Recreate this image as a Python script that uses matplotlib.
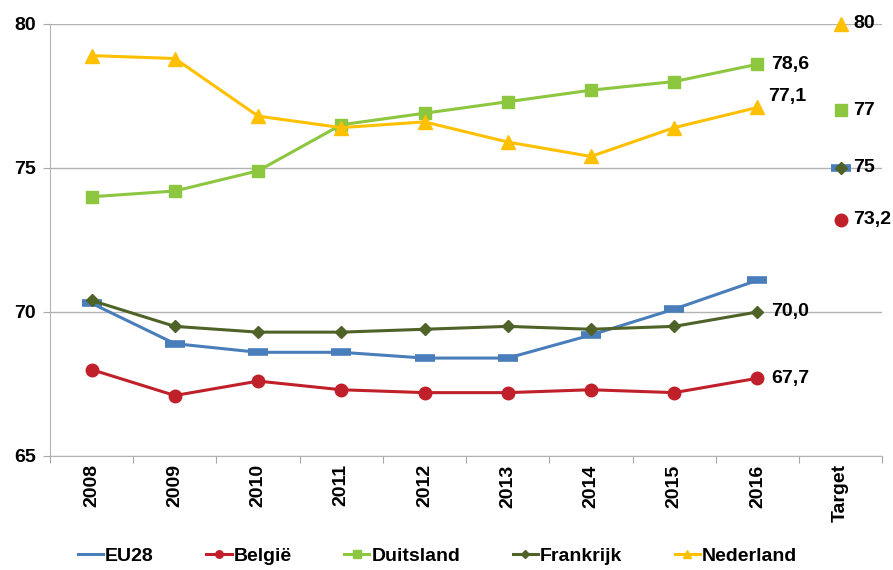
import numpy as np
import matplotlib
matplotlib.use('Agg')
import matplotlib.pyplot as plt

plt.rcParams['font.family'] = ['Liberation Sans', 'DejaVu Sans']
plt.rcParams['font.weight'] = 'bold'

# Arbeidsparticipatie 2008-2016 plus de streefwaarde
jaren = ['2008', '2009', '2010', '2011', '2012', '2013', '2014', '2015', '2016', 'Target']

eu28 = [70.3, 68.9, 68.6, 68.6, 68.4, 68.4, 69.2, 70.1, 71.1]
belgie = [68.0, 67.1, 67.6, 67.3, 67.2, 67.2, 67.3, 67.2, 67.7]
duitsland = [74.0, 74.2, 74.9, 76.5, 76.9, 77.3, 77.7, 78.0, 78.6]
frankrijk = [70.4, 69.5, 69.3, 69.3, 69.4, 69.5, 69.4, 69.5, 70.0]
nederland = [78.9, 78.8, 76.8, 76.4, 76.6, 75.9, 75.4, 76.4, 77.1]

target_eu28 = 75
target_belgie = 73.2
target_duitsland = 77
target_frankrijk = 75
target_nederland = 80

series = [
    ('EU28', eu28, target_eu28, '#4A7EBB', '_', dict(markersize=15, markeredgewidth=5.5)),
    ('België', belgie, target_belgie, '#C0202A', 'o', dict(markersize=9)),
    ('Duitsland', duitsland, target_duitsland, '#8DC63F', 's', dict(markersize=8.5)),
    ('Frankrijk', frankrijk, target_frankrijk, '#4F6228', 'D', dict(markersize=6.5)),
    ('Nederland', nederland, target_nederland, '#FFC000', '^', dict(markersize=9.5)),
]

fig = plt.figure(figsize=(8.93, 5.70), dpi=100)
ax = fig.add_axes([0.056, 0.2, 0.932, 0.758])

x = np.arange(len(jaren) - 1)
for naam, waarden, doel, kleur, marker, mk in series:
    ax.plot(x, waarden, color=kleur, lw=2.2, marker=marker, markerfacecolor=kleur,
            markeredgecolor=kleur, label=naam, zorder=3, clip_on=False, **mk)
    ax.plot([len(jaren) - 1], [doel], color=kleur, marker=marker, markerfacecolor=kleur,
            markeredgecolor=kleur, linestyle='none', zorder=4, clip_on=False, **mk)

def fmt(v):
    return f'{v:.1f}'.replace('.', ',')

# waarden 2016
lbl = dict(fontsize=14, fontweight='bold', va='center', ha='left')
ax.annotate(fmt(duitsland[-1]), (8, duitsland[-1]), xytext=(10, 0), textcoords='offset points', **lbl)
ax.annotate(fmt(nederland[-1]), (8, nederland[-1]), xytext=(8, 8), textcoords='offset points', **lbl)
ax.annotate(fmt(frankrijk[-1]), (8, frankrijk[-1]), xytext=(10, 0), textcoords='offset points', **lbl)
ax.annotate(fmt(belgie[-1]), (8, belgie[-1]), xytext=(10, 0), textcoords='offset points', **lbl)

# streefwaarden
for doel, tekst in [(target_nederland, '80'), (target_duitsland, '77'),
                    (target_frankrijk, '75'), (target_belgie, '73,2')]:
    ax.annotate(tekst, (9, doel), xytext=(9, 0), textcoords='offset points', **lbl)

ax.set_xlim(-0.5, 9.5)
ax.set_ylim(65, 80)
ax.set_yticks([65, 70, 75, 80])
ax.set_yticklabels(['65', '70', '75', '80'], fontsize=14, fontweight='bold')

ax.set_xticks(np.arange(-0.5, 10, 1))
ax.set_xticklabels([])
ax.set_xticks(np.arange(10), minor=True)
ax.set_xticklabels(jaren, minor=True, rotation=90, fontsize=14, fontweight='bold')
ax.tick_params(axis='x', which='major', length=5, color='#A6A6A6')
ax.tick_params(axis='x', which='minor', length=0, pad=6)
ax.tick_params(axis='y', length=5, color='#A6A6A6', pad=5)

ax.grid(axis='y', color='#B3B3B3', lw=1)
ax.set_axisbelow(True)
for s in ['top', 'right']:
    ax.spines[s].set_visible(False)
ax.spines['left'].set_color('#B3B3B3')
ax.spines['bottom'].set_color('#B3B3B3')

handles, labels = ax.get_legend_handles_labels()
leg = fig.legend(handles, labels, loc='lower center', bbox_to_anchor=(0.49, -0.022), ncol=5,
                 frameon=False, fontsize=14, handlelength=1.3, handletextpad=0.1,
                 columnspacing=2.7, markerscale=0.6)
# EU28 in de legenda alleen als lijn
leg.legend_handles[0].set_marker('')

fig.savefig('out.png', dpi=100)
